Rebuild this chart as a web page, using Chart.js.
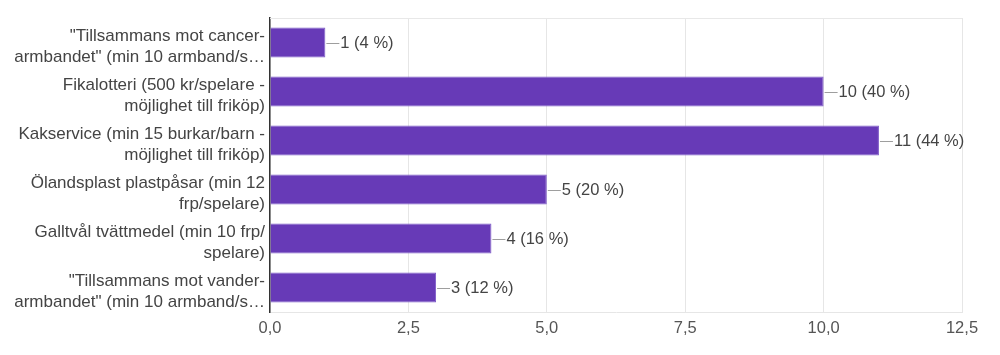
<!DOCTYPE html>
<html>
<head>
<meta charset="utf-8">
<script src="https://cdn.jsdelivr.net/npm/chart.js@4"></script>
<style>
  html, body { margin: 0; padding: 0; background: #fff; }
  #wrap { width: 1000px; height: 355px; position: relative; }
</style>
</head>
<body>
<div id="wrap"><canvas id="c"></canvas></div>
<script>
const categories = [
  ['"Tillsammans mot cancer-', 'armbandet" (min 10 armband/s…'],
  ['Fikalotteri (500 kr/spelare -', 'möjlighet till friköp)'],
  ['Kakservice (min 15 burkar/barn -', 'möjlighet till friköp)'],
  ['Ölandsplast plastpåsar (min 12', 'frp/spelare)'],
  ['Galltvål tvättmedel (min 10 frp/', 'spelare)'],
  ['"Tillsammans mot vander-', 'armbandet" (min 10 armband/s…']
];
const counts = [1, 10, 11, 5, 4, 3];
const percents = [4, 40, 44, 20, 16, 12];
const xTicks = [0, 2.5, 5, 7.5, 10, 12.5];

const FONT = "'Liberation Sans', Arial, sans-serif";

const labelPlugin = {
  id: 'barLabels',
  afterDatasetsDraw(chart) {
    const ctx = chart.ctx;
    const meta = chart.getDatasetMeta(0);
    ctx.save();
    ctx.font = '16.5px ' + FONT;
    ctx.textBaseline = 'middle';
    ctx.textAlign = 'left';
    meta.data.forEach((bar, i) => {
      const x = bar.x, y = bar.y;
      ctx.strokeStyle = '#9e9e9e';
      ctx.lineWidth = 1;
      ctx.beginPath();
      ctx.moveTo(x + 1, Math.round(y) + 0.5);
      ctx.lineTo(x + 14, Math.round(y) + 0.5);
      ctx.stroke();
      ctx.fillStyle = '#444';
      ctx.fillText(counts[i] + ' (' + percents[i] + ' %)', x + 15, y + 1);
    });
    const a = chart.chartArea;
    ctx.strokeStyle = '#e8e8e8';
    ctx.beginPath();
    ctx.moveTo(a.left, Math.round(a.top) + 0.5);
    ctx.lineTo(a.right, Math.round(a.top) + 0.5);
    ctx.stroke();
    ctx.restore();
  }
};

new Chart(document.getElementById('c'), {
  type: 'bar',
  data: {
    labels: categories,
    datasets: [{
      data: counts,
      backgroundColor: '#673ab7',
      borderColor: '#7e5bc8',
      borderWidth: 1,
      barPercentage: 0.61,
      categoryPercentage: 1.0
    }]
  },
  options: {
    indexAxis: 'y',
    responsive: true,
    maintainAspectRatio: false,
    animation: false,
    layout: { padding: { top: 18, right: 38, bottom: 0, left: 0 } },
    plugins: {
      legend: { display: false },
      tooltip: { enabled: false }
    },
    scales: {
      x: {
        min: 0,
        max: 12.5,
        afterBuildTicks(scale) {
          scale.ticks = xTicks.map(v => ({ value: v }));
        },
        afterFit(scale) { scale.height = 43; scale.paddingLeft = 0; scale.paddingRight = 0; },
        grid: { color: '#e6e6e6', drawTicks: false, lineWidth: 1 },
        border: { display: true, color: '#e6e6e6' },
        ticks: {
          padding: 7,
          color: '#555',
          font: { family: FONT, size: 16.5 },
          callback: v => Number(v).toFixed(1).replace('.', ',')
        }
      },
      y: {
        afterFit(scale) {
          scale.width = 270;
          scale.paddingTop = 0;
          scale.paddingBottom = 0;
        },
        grid: { display: false, drawTicks: false },
        border: { display: true, color: '#333', width: 1.5 },
        ticks: {
          padding: 5,
          color: '#444',
          labelOffset: 4,
          font: { family: FONT, size: 17, lineHeight: 1.24 },
          autoSkip: false
        }
      }
    }
  },
  plugins: [labelPlugin]
});
</script>
</body>
</html>
